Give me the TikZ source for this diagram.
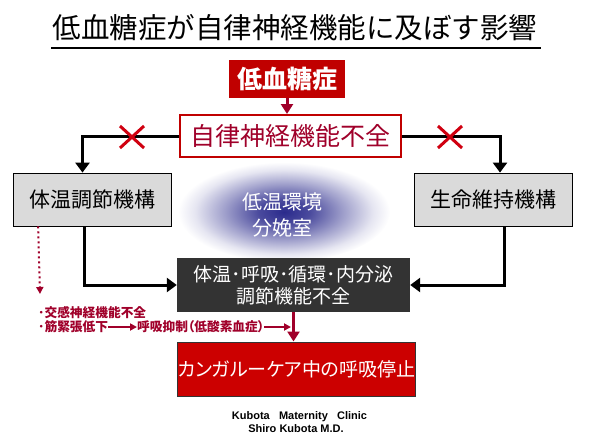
\documentclass[tikz,border=0pt]{standalone}
\usepackage{fontspec}
\setmainfont{Noto Sans CJK JP}
\newfontfamily\latinfont{Liberation Sans}
\usetikzlibrary{arrows.meta,positioning}

\definecolor{hypored}{HTML}{C00000}
\definecolor{boxred}{HTML}{CC0000}
\definecolor{textred}{HTML}{A0002A}
\definecolor{crossred}{HTML}{D00010}
\definecolor{boxgray}{HTML}{DADADA}
\definecolor{boxdark}{HTML}{333333}
\definecolor{glowA}{HTML}{2A2A8C}
\colorlet{glowB}{glowA!85!white}
\colorlet{glowC}{glowA!45!white}
\colorlet{glowD}{glowA!12!white}
\pgfdeclareradialshading{glow}{\pgfpoint{0bp}{0bp}}{color(0bp)=(glowA); color(6bp)=(glowB); color(14bp)=(glowC); color(21bp)=(glowD); color(25bp)=(white); color(50bp)=(white)}

\tikzset{
  hypobox/.style={fill=hypored, text=white, inner sep=0pt,
    font=\bfseries\fontsize{25}{25}\selectfont,
    minimum width=116pt, minimum height=38pt},
  ansbox/.style={draw=hypored, line width=2pt, fill=white, text=textred, inner sep=0pt,
    font=\fontsize{25}{25}\selectfont,
    minimum width=221pt, minimum height=42pt},
  mechbox/.style={draw=black, line width=0.8pt, fill=boxgray, inner sep=0pt,
    font=\fontsize{21}{21}\selectfont,
    minimum width=158pt, minimum height=53pt},
  funcbox/.style={fill=boxdark, text=white, align=center, inner sep=0pt,
    font=\fontsize{19}{22}\selectfont,
    minimum width=233pt, minimum height=54pt},
  arrestbox/.style={draw=boxdark, line width=1pt, fill=boxred, text=white, inner sep=0pt,
    font=\fontsize{19}{19}\selectfont,
    minimum width=233pt, minimum height=54pt},
  glowtext/.style={text=white, inner sep=0pt, font=\fontsize{20}{20}\selectfont},
  note/.style={text=textred, inner sep=0pt, anchor=west,
    font=\bfseries\fontsize{12.7}{13}\selectfont},
  credit/.style={inner sep=0pt, font=\latinfont\bfseries\fontsize{11}{11}\selectfont},
  flow/.style={line width=3pt, -{Triangle[width=14pt,length=10pt]}},
  redflow/.style={draw=textred, line width=3pt, -{Triangle[width=12pt,length=10pt]}},
  smallred/.style={draw=textred, line width=2pt, -{Triangle[width=7pt,length=7pt]}},
  dotline/.style={draw=textred, line width=2pt, dash pattern=on 2pt off 3pt,
    -{Triangle[width=7pt,length=7pt]}},
  xmark/.style={draw=crossred, line width=3pt}
}

\begin{document}
\begin{tikzpicture}[x=1pt,y=-1pt]

\useasboundingbox (0,0) rectangle (597,444);

%====================================================
% Title
%====================================================
\node[inner sep=0pt, font=\fontsize{28.5}{28.5}\selectfont] (title) at (295,28)
{低血糖症が自律神経機能に及ぼす影響};
\coordinate (ulA) at (51,48);
\coordinate (ulB) at (541,48);
\draw[line width=2.8pt] (ulA) -- (ulB);

%====================================================
% Glow : cold environment
%====================================================
\shade[shading=glow] (284,212) ellipse (106 and 50);
\node[glowtext] (cold) at (282,202) {低温環境};
\node[glowtext] (room) at (282,228) {分娩室};

%====================================================
% Boxes
%====================================================
\node[hypobox] (hypo) at (287,79) {低血糖症};
\node[ansbox] (ans) at (290.5,136) {自律神経機能不全};

\node[mechbox] (thermo) at (92.5,199.5) {体温調節機構};
\node[mechbox] (vital) at (493,199.5) {生命維持機構};

\node[funcbox] (func) at (293.5,285)
{体温･呼吸･循環･内分泌\\調節機能不全};

\node[arrestbox] (arrest) at (296.5,369)
{\addfontfeatures{RawFeature=+palt}カンガルーケア中の呼吸停止};

%====================================================
% Arrows
%====================================================
% hypoglycemia -> autonomic failure
\draw[redflow] (hypo.south) -- (hypo.south |- ans.north);

% autonomic failure -> both mechanisms
\draw[flow] (ans.west) -| ([xshift=-10pt]thermo.north);
\draw[flow] (ans.east) -| ([xshift=7pt]vital.north);

% crosses on the links
\coordinate (xl) at (132,137);
\coordinate (xr) at (450,137);
\foreach \c in {xl,xr}{
  \draw[xmark] ([shift={(-12,-11)}]\c) -- ([shift={(12,11)}]\c);
  \draw[xmark] ([shift={(-12,11)}]\c) -- ([shift={(12,-11)}]\c);
}

% mechanisms -> regulation failure
\draw[flow] ([xshift=-8pt]thermo.south) |- (func.west);
\draw[flow] ([xshift=11pt]vital.south) |- (func.east);

% regulation failure -> respiratory arrest
\draw[redflow] (func.south) -- (func.south |- arrest.north);

%====================================================
% Side notes
%====================================================
\coordinate (dotend) at (40,294);
\draw[dotline] ([xshift=25pt]thermo.south west) -- (dotend);

\node[note] (sympa) at (38,313) {･交感神経機能不全};
\node[note] (tonus) at (38,327) {･筋緊張低下};
\node[note] (resp) at (137,327) {\addfontfeatures{RawFeature=+palt}呼吸抑制（低酸素血症）};
\coordinate (tap) at (291,327);
\draw[smallred] (tonus.east) -- (resp.west);
\draw[smallred] (resp.east) -- (tap);

%====================================================
% Footer
%====================================================
\node[credit] (clinic) at (299.5,417) {Kubota\ \ \ Maternity\ \ \ Clinic};
\node[credit] (doctor) at (296,429) {Shiro Kubota M.D.};

\end{tikzpicture}
\end{document}
